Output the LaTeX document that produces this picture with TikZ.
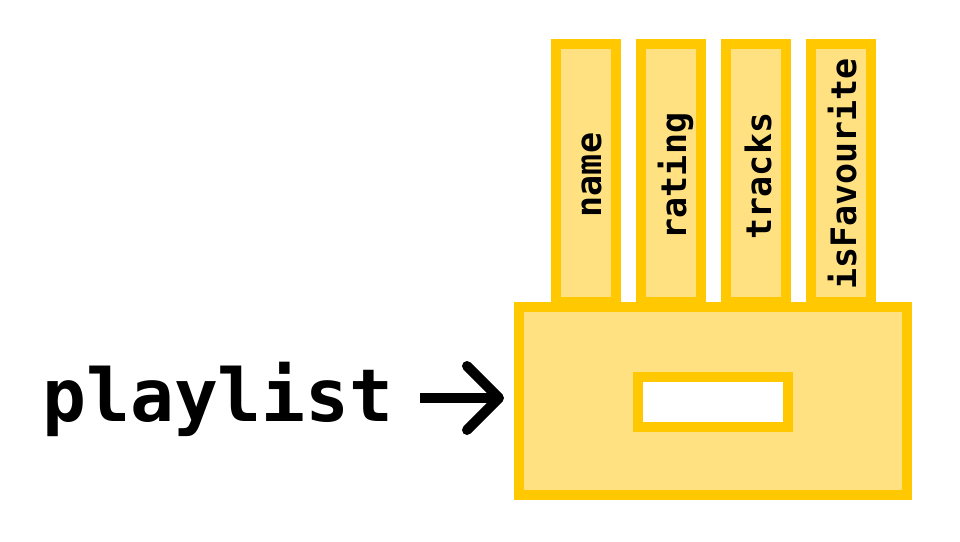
\documentclass[tikz,border=0pt]{standalone}
\usepackage{fontspec}
\setmonofont{DejaVu Sans Mono}
\usetikzlibrary{calc}
\definecolor{boxfill}{RGB}{255,225,130}
\definecolor{boxline}{RGB}{255,200,0}
\begin{document}
\begin{tikzpicture}[x=1pt,y=-1pt,
  box/.style={draw=boxline, fill=boxfill, line width=10pt, inner sep=0pt, outer sep=0pt},
  tab/.style={box, minimum width=60pt, minimum height=258pt},
  slot/.style={draw=boxline, fill=white, line width=10pt, inner sep=0pt, minimum width=150pt, minimum height=50pt},
  field/.style={font=\fontsize{35}{35}\selectfont\ttfamily\bfseries, rotate=90, anchor=base, inner sep=0pt},
  arrowline/.style={line width=10pt, black}]
\useasboundingbox (0,0) rectangle (960,541);
% tabs
\node[tab] (t1) at (586,173) {};
\node[tab] (t2) at (671,173) {};
\node[tab] (t3) at (756,173) {};
\node[tab] (t4) at (841,173) {};
\node[field] (f1) at (601,175) {name};
\node[field] (f2) at (686,176) {rating};
\node[field] (f3) at (771,176) {tracks};
\node[field] (f4) at (856,174) {isFavourite};
% main box
\node[box, minimum width=388pt, minimum height=188pt] (obj) at (713,401) {};
\node[slot] (slot) at (713,402) {};
% label
\node[anchor=base west, inner sep=0pt, font=\fontsize{73}{73}\selectfont\ttfamily\bfseries] (pl) at (42,421) {playlist};
% arrow
\coordinate (a0) at ($(pl.east)+(26,0)$);
\coordinate (a1) at ($(obj.west)+(-20,-3)$);
\draw[arrowline] (a0 |- a1) -- (a1);
\draw[arrowline, line cap=round, line join=round] ($(a1)+(-32,-32)$) -- (a1) -- ($(a1)+(-32,32)$);
\end{tikzpicture}
\end{document}
